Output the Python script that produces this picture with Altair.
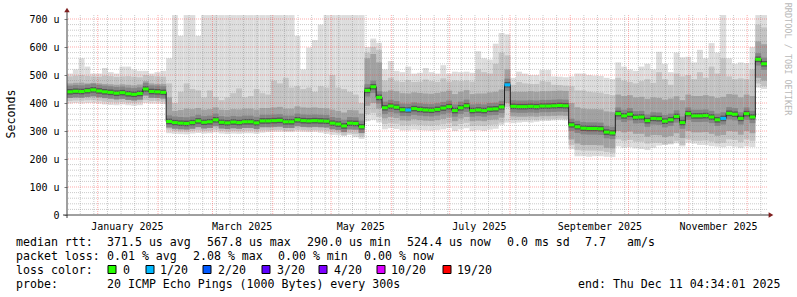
import altair as alt
import pandas as pd

# ---------------- time frame ----------------
START = pd.Timestamp("2024-12-16 04:34:01", tz="UTC")
END = pd.Timestamp("2025-12-11 04:34:01", tz="UTC")
BIN_DAYS = 3  # each value below covers 3 days

# ---------------- data (microseconds) ----------------
med = (
    [440, 442, 441, 444, 447, 443, 440, 438, 435, 437, 433, 431, 434, 450, 441, 440, 438]
    + [334]
    + [330, 328, 327, 330, 336, 331, 333, 340, 331, 329, 332, 330, 333, 333, 329, 336, 336,
       337, 338, 333, 333, 340, 337, 336, 337, 336, 335, 328, 325, 318, 328, 327, 315]
    + [445, 458, 420]
    + [383, 389, 385, 376, 375, 380, 377, 375, 374, 377, 382, 387, 373, 383, 390, 373, 375,
       373, 378, 379, 386, 465]
    + [388, 387, 387, 388, 387, 389, 389, 390, 391, 390]
    + [322, 315, 310, 309, 309, 308, 296, 293]
    + [362, 354, 360, 349, 350, 337, 345, 344, 335, 340, 352, 330, 362, 354, 354, 355, 350,
       340, 345, 363, 360, 345, 362, 350]
    + [556, 540]
)

hi0 = (
    [505, 520, 560, 530, 505, 505, 525, 510, 505, 530, 530, 520, 515, 515, 505, 510, 515]
    + [560]
    + [714, 640, 714, 714, 640, 714, 714, 714, 714, 714, 714, 714, 714, 714, 714, 714, 714,
       714, 714, 714, 714, 640, 520, 598, 625, 680, 714, 714, 714, 714, 714, 714, 714]
    + [600, 630, 615]
    + [520, 550, 515, 510, 530, 505, 508, 525, 510, 505, 535, 505, 512, 510, 512, 508, 585,
       560, 555, 612, 650, 645]
    + [490, 512, 505, 500, 500, 518, 518, 495, 494, 492]
    + [495, 505, 505, 500, 498, 497, 490, 485]
    + [545, 530, 520, 515, 530, 540, 520, 583, 540, 510, 580, 563, 565, 545, 590, 560, 614,
       580, 714, 560, 540, 545, 542, 600]
    + [714, 714]
)

hi1 = (
    [495, 498, 500, 497, 495, 494, 498, 496, 493, 495, 496, 494, 492, 500, 497, 495, 494]
    + [470]
    + [400, 440, 470, 450, 445, 420, 445, 422, 410, 420, 435, 452, 420, 425, 450, 435, 430,
       480, 470, 490, 455, 460, 450, 455, 440, 460, 455, 500, 455, 450, 440, 430, 400]
    + [580, 600, 590]
    + [480, 490, 478, 475, 482, 475, 476, 484, 478, 475, 488, 476, 480, 478, 480, 476, 520,
       510, 505, 540, 580, 570]
    + [465, 475, 470, 468, 468, 478, 476, 465, 464, 462]
    + [460, 445, 445, 440, 438, 437, 432, 428]
    + [490, 480, 475, 470, 478, 485, 472, 510, 485, 465, 505, 495, 500, 485, 510, 490, 530,
       505, 560, 495, 485, 488, 485, 520]
    + [680, 670]
)

hi2 = (
    [470, 472, 473, 470, 472, 470, 468, 467, 465, 467, 465, 463, 466, 478, 470, 468, 468]
    + [420]
    + [372, 375, 380, 378, 382, 376, 378, 384, 376, 375, 378, 377, 380, 380, 376, 382, 382,
       384, 386, 380, 380, 388, 384, 383, 384, 382, 381, 376, 372, 366, 375, 374, 362]
    + [560, 575, 545]
    + [440, 445, 442, 435, 434, 438, 436, 434, 433, 436, 440, 444, 432, 440, 446, 432, 434,
       434, 438, 440, 448, 520]
    + [440, 440, 440, 442, 440, 442, 442, 443, 444, 443]
    + [400, 385, 380, 378, 378, 377, 370, 368]
    + [430, 425, 428, 420, 422, 415, 420, 418, 412, 416, 424, 410, 430, 425, 425, 428, 424,
       418, 422, 432, 430, 420, 430, 425]
    + [620, 610]
)

lo2 = (
    [418, 420, 420, 421, 422, 420, 417, 415, 413, 415, 411, 410, 412, 425, 418, 418, 416]
    + [330]
    + [310, 308, 307, 310, 314, 310, 311, 316, 310, 308, 310, 309, 311, 311, 308, 313, 313,
       314, 315, 311, 311, 316, 314, 313, 314, 313, 312, 307, 304, 298, 305, 304, 292]
    + [390, 400, 380]
    + [345, 350, 346, 338, 337, 342, 339, 337, 336, 339, 343, 348, 335, 344, 350, 335, 337,
       335, 340, 341, 348, 400]
    + [352, 351, 351, 352, 351, 353, 353, 354, 355, 354]
    + [270, 255, 250, 250, 250, 249, 240, 238]
    + [300, 295, 298, 290, 290, 280, 286, 285, 278, 282, 292, 275, 300, 295, 295, 296, 290,
       283, 286, 300, 298, 287, 300, 292]
    + [490, 480]
)

lo1 = (
    [407, 409, 408, 410, 410, 408, 405, 403, 402, 404, 401, 400, 402, 410, 407, 407, 405]
    + [305]
    + [300, 298, 297, 300, 303, 300, 301, 305, 300, 298, 300, 299, 301, 301, 298, 302, 302,
       303, 304, 300, 300, 305, 303, 302, 303, 302, 301, 296, 293, 285, 292, 290, 280]
    + [360, 365, 350]
    + [325, 328, 326, 320, 320, 323, 321, 320, 319, 321, 324, 328, 318, 325, 329, 318, 320,
       318, 322, 323, 330, 385]
    + [340, 340, 340, 341, 340, 342, 342, 343, 344, 343]
    + [250, 232, 230, 230, 230, 229, 225, 222]
    + [270, 265, 268, 262, 262, 255, 258, 258, 252, 255, 265, 250, 270, 265, 265, 266, 262,
       256, 258, 270, 268, 260, 270, 265]
    + [470, 460]
)

lo0 = (
    [398, 400, 398, 400, 400, 398, 395, 393, 392, 395, 392, 390, 392, 400, 398, 398, 396]
    + [292]
    + [290, 289, 288, 291, 293, 291, 292, 295, 291, 289, 291, 290, 292, 292, 290, 294, 296,
       297, 297, 296, 296, 298, 297, 296, 297, 294, 290, 286, 285, 282, 286, 278, 272]
    + [335, 340, 330]
    + [306, 310, 307, 302, 302, 305, 303, 302, 301, 303, 306, 310, 300, 306, 310, 300, 303,
       300, 305, 308, 322, 330]
    + [328, 330, 332, 330, 333, 336, 336, 338, 339, 338]
    + [235, 210, 210, 208, 210, 210, 208, 207]
    + [245, 240, 242, 238, 236, 232, 240, 248, 250, 252, 256, 245, 258, 255, 250, 250, 246,
       244, 242, 246, 244, 240, 245, 243]
    + [455, 450]
)

loss_1_20_bins = [58, 75, 112]  # bins whose median is drawn in the 1/20 loss colour

loss_labels = ["0", "1/20", "2/20", "3/20", "4/20", "10/20", "19/20"]
loss_colors = ["#26ff00", "#00b8ff", "#0059ff", "#5e00ff", "#7e00ff", "#dd00ff", "#ff0000"]

y_ticks = [0, 100, 200, 300, 400, 500, 600, 700]
label_months = ["2025-01-16", "2025-03-16", "2025-05-16", "2025-07-16", "2025-09-16", "2025-11-16"]

stats_line1 = ["median rtt:", "371.5 us avg", "567.8 us max", "290.0 us min", "524.4 us now",
               "0.0 ms sd", "7.7", "am/s"]
stats_line2 = ["packet loss:", "0.01 % avg", "2.08 % max", "0.00 % min", "0.00 % now"]
probe_text = ["probe:", "20 ICMP Echo Pings (1000 Bytes) every 300s", "end: Thu Dec 11 04:34:01 2025"]

# ---------------- layout (pixels, relative to plot origin) ----------------
L1_X = [-51, 40, 140, 240, 340, 440, 518, 560]
L2_X = [-51, 40, 126, 211, 297]
SW_X = [45, 83, 140, 199, 256, 314, 380]
SWT_X = [56, 93, 151, 210, 267, 324, 390]
L4_X = [-51, 40, 511]
BASE_Y = [230.5, 244.5, 258.5, 272.5]
CORE_OUT = 22   # half-height of the dark smoke core (style)
CORE_IN = 10

FONT = "DejaVu Sans Mono"


def ms(ts):
    return int(pd.Timestamp(ts).value // 10**6)


n = len(med)
t0 = [ms(START + pd.Timedelta(days=BIN_DAYS * i)) for i in range(n)]
t1 = [ms(START + pd.Timedelta(days=BIN_DAYS * (i + 1))) for i in range(n)]
loss = ["1/20" if i in loss_1_20_bins else "0" for i in range(n)]

df = pd.DataFrame(dict(t0=t0, t1=t1, med=med, lo0=lo0, hi0=hi0, lo1=lo1, hi1=hi1,
                       lo2=lo2, hi2=hi2, loss=loss))
dline = pd.DataFrame(dict(t=t0 + [t1[-1]], v=med + [med[-1]]))

XS = alt.Scale(type="utc", domain=[ms(START), ms(END)])
YS = alt.Scale(domain=[0, 200 / 0.28], nice=False, zero=True)

AX = alt.Axis(
    values=[ms(pd.Timestamp(d, tz="UTC")) for d in label_months],
    labelExpr="utcFormat(datum.value, '%B %Y')", ticks=False, tickSize=0, domain=False,
    grid=False, title=None, labelFont=FONT, labelFontSize=10, labelColor="#000000",
    labelBaseline="alphabetic", labelPadding=14, labelFlush=False, labelOverlap=False,
    labelBound=False)
AY = alt.Axis(
    values=y_ticks, labelExpr="datum.value == 0 ? '0' : datum.value + ' u'",
    ticks=True, tickSize=3, tickColor="#808080", domain=False, grid=False, title=None,
    labelFont=FONT, labelFontSize=10, labelColor="#000000", labelPadding=5,
    labelFlush=False, labelOverlap=False)


def X(f):
    return alt.X(f, scale=XS, axis=AX)


def Y(f):
    return alt.Y(f, scale=YS, axis=AY)


month_starts = [ms(pd.Timestamp(f"2025-{m:02d}-01", tz="UTC")) for m in range(1, 13)]
weeks = [ms(d) for d in pd.date_range("2024-12-23", "2025-12-10", freq="7D", tz="UTC") if d.day != 1]
minor_y = [v for v in range(20, 700, 20) if v % 100 != 0]
major_y = [100, 200, 300, 400, 500, 600, 700]

base = alt.Chart(df)

smoke0 = base.mark_rect(color="#dddddd").encode(x=X("t0:T"), x2="t1:T", y=Y("lo0:Q"), y2="hi0:Q")
smoke1 = base.mark_rect(color="#c4c4c4").encode(x=X("t0:T"), x2="t1:T", y=Y("lo1:Q"), y2="hi1:Q")
smoke2 = base.mark_rect(color="#a2a2a2").encode(x=X("t0:T"), x2="t1:T", y=Y("lo2:Q"), y2="hi2:Q")
core1 = base.transform_calculate(a=f"datum.med - {CORE_OUT}", b=f"datum.med + {CORE_OUT}").mark_rect(
    color="#858585").encode(x=X("t0:T"), x2="t1:T", y=Y("a:Q"), y2="b:Q")
core2 = base.transform_calculate(a=f"datum.med - {CORE_IN}", b=f"datum.med + {CORE_IN}").mark_rect(
    color="#565656").encode(x=X("t0:T"), x2="t1:T", y=Y("a:Q"), y2="b:Q")

grid_minor_v = alt.Chart(pd.DataFrame({"d": weeks})).mark_rule(
    color="#8a8a8a", opacity=0.45, strokeDash=[1, 1], strokeWidth=1).encode(x=X("d:T"))
grid_minor_h = alt.Chart(pd.DataFrame({"v": minor_y})).mark_rule(
    color="#8a8a8a", opacity=0.45, strokeDash=[1, 1], strokeWidth=1).encode(y=Y("v:Q"))
grid_major_v = alt.Chart(pd.DataFrame({"d": month_starts})).mark_rule(
    color="#ff3030", opacity=0.4, strokeDash=[1, 1], strokeWidth=1).encode(x=X("d:T"))
grid_major_h = alt.Chart(pd.DataFrame({"v": major_y})).mark_rule(
    color="#ff3030", opacity=0.4, strokeDash=[1, 1], strokeWidth=1).encode(y=Y("v:Q"))

med_line = alt.Chart(dline).mark_line(interpolate="step-after", strokeWidth=1, color="#202020").encode(
    x=X("t:T"), y=Y("v:Q"))
med_blocks = base.mark_rule(strokeWidth=3).encode(
    x=X("t0:T"), x2="t1:T", y=Y("med:Q"),
    color=alt.Color("loss:N", scale=alt.Scale(domain=loss_labels, range=loss_colors), legend=None))

one = pd.DataFrame({"a": [0]})
x_axis_line = alt.Chart(one).mark_rule(color="#404040", strokeWidth=1).encode(
    x=alt.value(-4), x2=alt.value(703), y=alt.value(200))
y_axis_line = alt.Chart(one).mark_rule(color="#404040", strokeWidth=1).encode(
    x=alt.value(0), y=alt.value(-5), y2=alt.value(203))
arrow_x = alt.Chart(one).mark_point(shape="triangle-right", filled=True, color="#7f1f1f",
                                    size=30, opacity=1).encode(x=alt.value(704), y=alt.value(200))
arrow_y = alt.Chart(one).mark_point(shape="triangle-up", filled=True, color="#7f1f1f",
                                    size=30, opacity=1).encode(x=alt.value(0), y=alt.value(-5))


def txt(s, x, y, size=11.6, color="#000000", align="left", angle=0, baseline="alphabetic"):
    return alt.Chart(pd.DataFrame({"s": [s]})).mark_text(
        font=FONT, fontSize=size, color=color, align=align, baseline=baseline, angle=angle
    ).encode(x=alt.value(x), y=alt.value(y), text="s:N")


def swatch(c, x, y):
    return alt.Chart(pd.DataFrame({"c": [c]})).mark_point(
        shape="square", size=64, filled=True, fill=c, stroke="#000000", strokeWidth=1,
        opacity=1).encode(x=alt.value(x), y=alt.value(y))


texts = []
texts.append(txt("Seconds", -55.5, 99, size=11.6, align="center", angle=270, baseline="middle"))
texts.append(txt("RRDTOOL / TOBI OETIKER", 721, 44, size=8.5, color="#b8b8b8", align="center",
                 angle=90, baseline="middle"))
for s, x in zip(stats_line1, L1_X):
    texts.append(txt(s, x, BASE_Y[0]))
for s, x in zip(stats_line2, L2_X):
    texts.append(txt(s, x, BASE_Y[1]))
texts.append(txt("loss color:", -51, BASE_Y[2]))
for lab, col, sx, tx in zip(loss_labels, loss_colors, SW_X, SWT_X):
    texts.append(swatch(col, sx, BASE_Y[2] - 4))
    texts.append(txt(lab, tx, BASE_Y[2]))
for s, x in zip(probe_text, L4_X):
    texts.append(txt(s, x, BASE_Y[3]))

layers = [smoke0, smoke1, smoke2, core1, core2,
          grid_minor_h, grid_minor_v, grid_major_h, grid_major_v,
          med_line, med_blocks, x_axis_line, y_axis_line, arrow_x, arrow_y] + texts

chart = alt.layer(*layers).properties(
    width=700, height=200,
    padding={"left": 67, "top": 15, "right": 30, "bottom": 82},
    autosize=alt.AutoSizeParams(type="none"),
    background="#ffffff",
).configure_view(stroke="transparent")

chart.save("out.html", embed_options={"renderer": "svg", "actions": False})
